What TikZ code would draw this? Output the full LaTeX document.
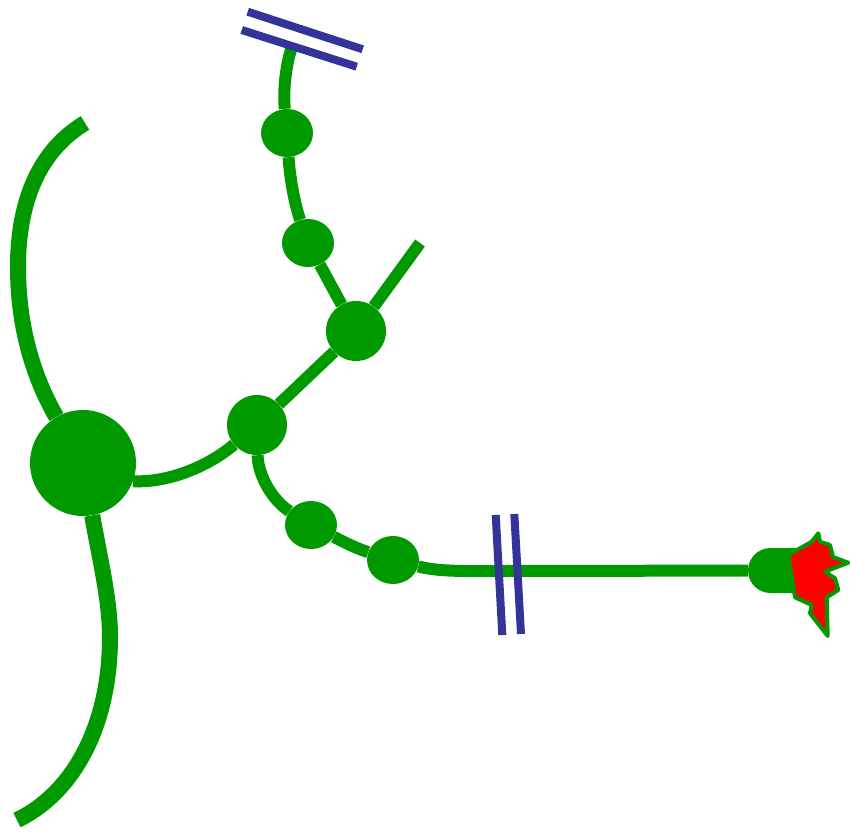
\documentclass[tikz,border=0pt]{standalone}
\usetikzlibrary{shapes.geometric,shapes.misc}
\definecolor{stemgreen}{HTML}{009900}
\definecolor{barblue}{HTML}{333399}
\tikzset{
  stemline/.style={draw=stemgreen,line width=12pt},
  thickstem/.style={draw=stemgreen,line width=16pt},
  bead/.style={ellipse,fill=stemgreen,inner sep=0pt,minimum width=52pt,minimum height=48pt},
  knot/.style={circle,fill=stemgreen,inner sep=0pt,minimum size=60pt},
  cutbar/.style={draw=barblue,line width=8pt},
}
\begin{document}
\begin{tikzpicture}[x=1pt,y=-1pt]
\useasboundingbox (0,0) rectangle (850,831);

\node[circle,fill=stemgreen,inner sep=0pt,minimum size=106pt] (hub) at (83,463) {};
\node[knot] (fork) at (257,425) {};
\node[knot] (upper) at (356,331) {};
\node[bead] (b1) at (287,133) {};
\node[bead] (b2) at (308,243) {};
\node[bead] (b5) at (311,525) {};
\node[bead] (b6) at (393,560) {};
\node[rounded rectangle,rounded rectangle right arc=none,fill=stemgreen,inner sep=0pt,
  minimum width=48pt,minimum height=45pt] (tip) at (772,570.5) {};
\coordinate (arcend) at (85,123);
\coordinate (tailend) at (17,820);
\coordinate (topend) at (293,44);
\coordinate (stubend) at (420,243);
\coordinate (bend) at (500,571);

\draw[thickstem] (arcend) .. controls (40,150) and (18,200) .. (18,267)
  .. controls (18,330) and (35,380) .. (hub);
\draw[thickstem] (hub) .. controls (100,560) and (110,600) .. (110,637)
  .. controls (110,730) and (70,795) .. (tailend);
\draw[stemline] (hub.-20) .. controls (170,483) and (210,465) .. (fork);
\draw[stemline] (fork) -- (upper);
\draw[stemline] (upper) -- (stubend);
\draw[stemline] (upper) -- (b2);
\draw[stemline] (b2) .. controls (295,205) and (290,180) .. (b1);
\draw[stemline] (b1) .. controls (283,90) and (286,62) .. (topend);
\draw[stemline] (fork) .. controls (258,475) and (272,500) .. (b5);
\draw[stemline] (b5) .. controls (340,540) and (355,548) .. (b6);
\draw[stemline] (b6) .. controls (440,572) and (470,571) .. (bend) -- (tip);

\filldraw[fill=red,draw=stemgreen,line width=4pt,line join=round]
  (788.3,555) -- (811.7,541.7) -- (818.3,533.3) -- (820,541.7) -- (830,545)
  -- (833,557) -- (848.3,562.7) -- (825,571.7) -- (835,578.3) -- (838.3,590)
  -- (826.7,597.3) -- (827.7,636) -- (810,613.3) -- (811.7,605) -- (795,597.3) -- cycle;

\draw[cutbar] (247.7,11.7) -- (362.7,49.3);
\draw[cutbar] (241.7,30) -- (356.7,66.7);
\draw[cutbar] (495.7,515) -- (502.3,635);
\draw[cutbar] (514.3,514) -- (521,634);
\end{tikzpicture}
\end{document}
